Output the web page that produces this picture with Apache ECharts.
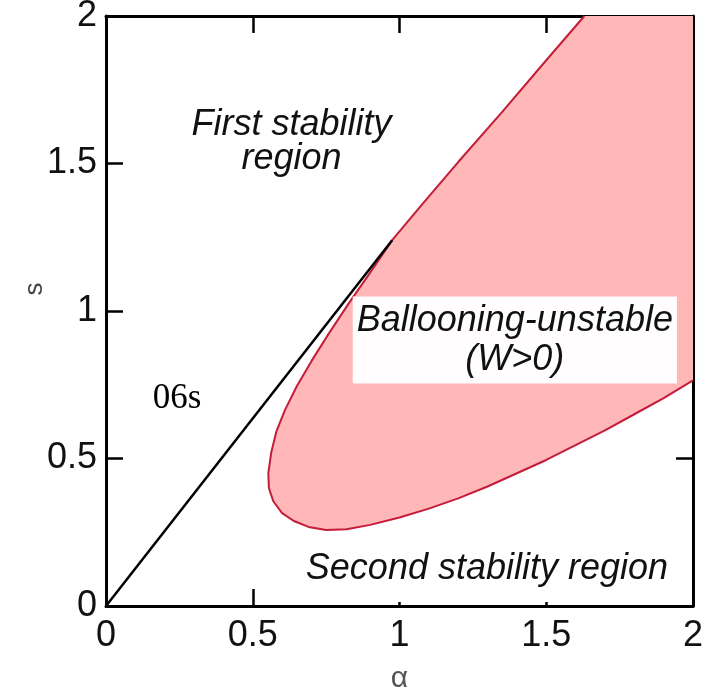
<!DOCTYPE html>
<html>
<head>
<meta charset="utf-8">
<script src="https://cdn.jsdelivr.net/npm/echarts@6/dist/echarts.min.js"></script>
<style>
html,body{margin:0;padding:0;background:#fff;}
#chart{width:708px;height:690px;}
</style>
</head>
<body>
<div id="chart"></div>
<script>
// ---- data ----
const alphaTicks = [0, 0.5, 1, 1.5, 2];
const sTicks = [0, 0.5, 1, 1.5, 2];

// marginal-stability boundary of the ballooning-unstable region (alpha, s)
const boundaryAlpha = [1.63, 1.50, 1.35, 1.20, 1.08, 0.975, 0.90, 0.83, 0.76, 0.70, 0.65, 0.61, 0.58, 0.563, 0.553, 0.555, 0.57, 0.60, 0.64, 0.69, 0.75, 0.82, 0.90, 1.00, 1.10, 1.20, 1.30, 1.40, 1.50, 1.60, 1.70, 1.80, 1.90, 2.00];
const boundaryS     = [2.00, 1.85, 1.675, 1.505, 1.365, 1.24, 1.13, 1.03, 0.925, 0.83, 0.745, 0.665, 0.59, 0.52, 0.45, 0.40, 0.355, 0.315, 0.288, 0.268, 0.258, 0.26, 0.275, 0.30, 0.33, 0.365, 0.405, 0.45, 0.495, 0.545, 0.595, 0.65, 0.705, 0.765];
// corner of the plot closing the unstable region
const cornerAlpha = [2.0];
const cornerS = [2.0];

// black straight line
const lineAlpha = [0, 0.975];
const lineS = [0, 1.24];

// annotations
const noteTexts = ['First stability\nregion', 'Ballooning-unstable\n(W>0)', 'Second stability region', '06s'];
const noteAlpha = [0.632, 1.393, 1.257, 0.242];
const noteS = [1.572, 0.9015, 0.127, 0.703];

const xName = 'α';
const yName = 's';

// ---- chart ----
const chart = echarts.init(document.getElementById('chart'), null, {renderer: 'canvas'});
const sans = '"Liberation Sans", Arial, Helvetica, sans-serif';

const boundaryData = boundaryAlpha.map((a, i) => [a, boundaryS[i]]);
const lineData = lineAlpha.map((a, i) => [a, lineS[i]]);

const noteStyles = [
  {fontFamily: sans, fontStyle: 'italic', fontSize: 36, lineHeight: 34, color: '#111', align: 'center'},
  {fontFamily: sans, fontStyle: 'italic', fontSize: 36, lineHeight: 39, color: '#111', align: 'center',
   backgroundColor: 'rgba(255,255,255,0.97)', padding: [5, 4, 4, 4]},
  {fontFamily: sans, fontStyle: 'italic', fontSize: 36, lineHeight: 40, color: '#111', align: 'center',
   backgroundColor: '#fff', padding: [0, 16, 27, 40]},
  {fontFamily: '"Liberation Serif", "Times New Roman", serif', fontSize: 35, color: '#000', align: 'center'}
];

const noteData = noteTexts.map((t, i) => ({
  value: [noteAlpha[i], noteS[i]],
  label: Object.assign({show: true, position: 'inside', formatter: t, verticalAlign: 'middle'}, noteStyles[i])
}));

const axisCommon = {
  type: 'value', min: 0, max: 2, interval: 0.5,
  splitLine: {show: false},
  axisLine: {show: true, onZero: false, lineStyle: {color: '#000', width: 3}},
  axisTick: {show: true, inside: true, length: 17, lineStyle: {color: '#000', width: 2.5}}
};

chart.setOption({
  animation: false,
  backgroundColor: '#fff',
  grid: {left: 106, right: 15, top: 16, bottom: 84, containLabel: false, outerBoundsMode: 'none'},
  xAxis: [
    Object.assign({}, axisCommon, {
      position: 'bottom',
      name: xName, nameLocation: 'middle', nameGap: 58, nameMoveOverlap: false,
      nameTextStyle: {fontFamily: sans, fontSize: 30, color: '#555'},
      axisLabel: {show: true, margin: 12, fontFamily: sans, fontSize: 36, color: '#111',
        formatter: v => String(alphaTicks.find(t => Math.abs(t - v) < 1e-9) ?? v)}
    }),
    Object.assign({}, axisCommon, {position: 'top', axisLabel: {show: false}})
  ],
  yAxis: [
    Object.assign({}, axisCommon, {
      position: 'left',
      name: yName, nameLocation: 'middle', nameGap: 58, nameRotate: 90, nameMoveOverlap: false,
      nameTextStyle: {fontFamily: sans, fontSize: 26, color: '#444', padding: [0, 0, 0, 44]},
      axisLabel: {show: true, margin: 9, fontFamily: sans, fontSize: 36, color: '#111',
        formatter: v => String(sTicks.find(t => Math.abs(t - v) < 1e-9) ?? v)}
    }),
    Object.assign({}, axisCommon, {position: 'right', axisLabel: {show: false}})
  ],
  series: [
    {
      type: 'custom',
      name: 'unstable region',
      xAxisIndex: 0, yAxisIndex: 0,
      z: 1,
      silent: true,
      data: boundaryData,
      renderItem: function (params, api) {
        if (params.dataIndex !== 0) return null;
        const pts = boundaryAlpha.map((a, i) => api.coord([a, boundaryS[i]]));
        cornerAlpha.forEach((a, i) => pts.push(api.coord([a, cornerS[i]])));
        return {type: 'polygon', shape: {points: pts}, style: {fill: '#FFB7B7', stroke: null}};
      }
    },
    {
      type: 'line',
      name: 'boundary',
      data: boundaryData,
      showSymbol: false,
      symbol: 'none',
      smooth: false,
      z: 3,
      lineStyle: {color: '#C41C3A', width: 2}
    },
    {
      type: 'line',
      name: 'diagonal',
      data: lineData,
      showSymbol: false,
      symbol: 'none',
      z: 4,
      lineStyle: {color: '#000', width: 2.5}
    },
    {
      type: 'scatter',
      name: 'notes',
      symbolSize: 0,
      z: 5,
      silent: true,
      itemStyle: {opacity: 1},
      data: noteData
    }
  ]
});
</script>
</body>
</html>
